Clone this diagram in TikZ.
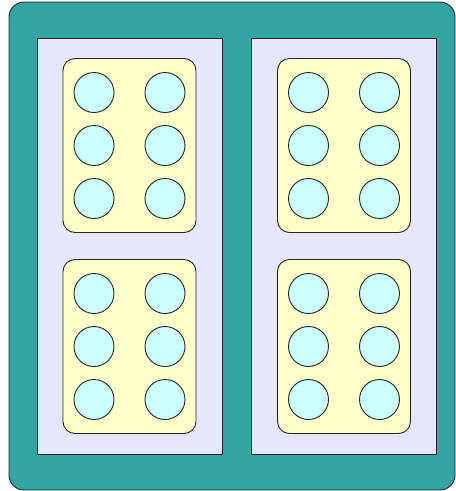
\documentclass[tikz,border=0pt]{standalone}
\definecolor{caseteal}{RGB}{51,163,163}
\definecolor{panellav}{RGB}{230,230,255}
\definecolor{trayyel}{RGB}{255,255,204}
\definecolor{cellcyan}{RGB}{204,255,255}
\begin{document}
\begin{tikzpicture}[x=1pt, y=-1pt,
  box/.style={draw=black!85, line width=0.9pt, rectangle,
              inner sep=0pt, outer sep=0pt, anchor=center},
  frame/.style={box, fill=caseteal, rounded corners=15pt,
                minimum width=446pt, minimum height=488pt},
  panel/.style={box, fill=panellav,
                minimum width=185pt, minimum height=416pt},
  tray/.style={box, fill=trayyel, rounded corners=12pt,
               minimum width=133pt, minimum height=174pt},
  cell/.style={box, circle, fill=cellcyan, minimum size=40pt},
]
\useasboundingbox (0,0) rectangle (456,491);
\def\dx{35.5}  % column offset
\def\dy{53}    % row spacing
% Case
\node[frame] (case) at (232,246) {};
% Panels
\node[panel] (left) at (129.5,246) {};
\node[panel] (right) at (344,246) {};
% Trays and cells
\foreach \p/\cx in {l/129.5, r/344}
  \foreach \t/\cy in {a/145.5, b/346.5} {
    \node[tray] (\p\t) at (\cx,\cy) {};
    \foreach \i in {0,1}
      \foreach \j in {0,1,2}
        \node[cell] (\p\t\i\j) at (\cx-\dx+2*\dx*\i, \cy-\dy+\dy*\j) {};
  }
\end{tikzpicture}
\end{document}
